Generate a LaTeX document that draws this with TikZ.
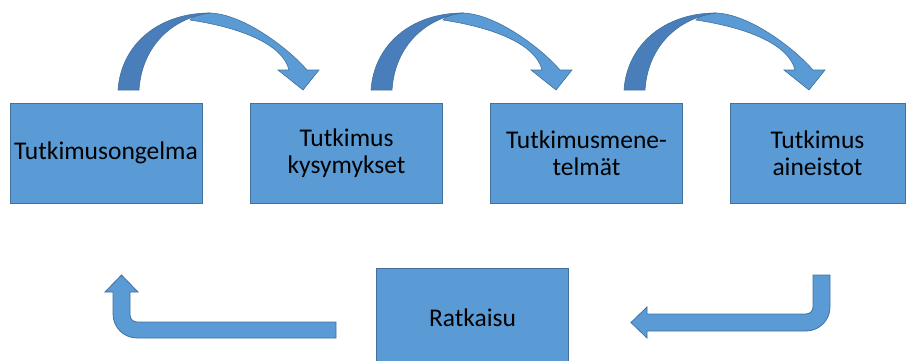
\documentclass[tikz,border=0pt]{standalone}
\usepackage{fontspec}
\setmainfont{Carlito}
\usetikzlibrary{positioning,calc}
\definecolor{boxfill}{HTML}{5B9BD5}
\definecolor{boxline}{HTML}{41719C}
\definecolor{arrowdark}{HTML}{4A7EBB}

\begin{document}
\begin{tikzpicture}[x=1pt, y=1pt,
    stage/.style={draw=boxline, line width=1pt, fill=boxfill, minimum height=100pt, minimum width=192pt, align=center, font=\fontsize{25.5}{27.5}\selectfont},
    blockarrow/.style={draw=boxline, line width=0.8pt, fill=boxfill}]
    \useasboundingbox (0,0) rectangle (910,360);
    % Research stages
    \node[stage] (problem) at (106,207) {Tutkimusongelma};
    \node[stage] (questions) at (346.5,207) {Tutkimus\\kysymykset};
    \node[stage] (methods) at (586.5,207) {Tutkimusmene-\\telmät};
    \node[stage, minimum width=175pt] (data) at (817.5,207) {Tutkimus\\aineistot};
    \node[stage] (solution) at (472.5,42) {Ratkaisu};

    % Curved arrows between the stages
    \foreach \x in {118,371,624} {
      \begin{scope}[shift={(\x,270)}]
        \path[blockarrow, line width=0.6pt] (72,70) .. controls (78,76) and (86,77) .. (92,77)
          .. controls (125,76) and (170,42) .. (189,20) -- (201,20) -- (185,0) -- (160,20) -- (171,20)
          .. controls (165,45) and (125,62) .. (72,70) -- cycle;
        \path[blockarrow, fill=arrowdark, line width=0.6pt] (0,0) .. controls (3,45) and (40,77) .. (92,77)
          .. controls (55,72) and (24,45) .. (21,0) -- cycle;
      \end{scope}
    }

    % Back from the data to the solution
    \path[blockarrow] (647,46) -- (806,46) arc[start angle=-90, end angle=0, radius=7] -- (813,85)
      -- (830,85) -- (830,53) arc[start angle=0, end angle=-90, radius=24] -- (647,29)
      -- (647,22) -- (631,37.5) -- (647,53) -- cycle;
    % From the solution back to the problem
    \path[blockarrow] (336,38) -- (137,38) arc[start angle=-90, end angle=-180, radius=7] -- (130,68)
      -- (138,68) -- (121.5,85) -- (105,68) -- (113,68) -- (113,46)
      arc[start angle=180, end angle=270, radius=24] -- (336,22) -- cycle;
\end{tikzpicture}
\end{document}
